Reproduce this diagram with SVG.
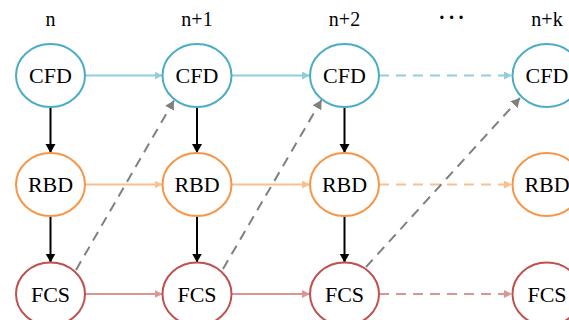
<svg xmlns="http://www.w3.org/2000/svg" width="569" height="320" viewBox="0 0 569 320">
  <style>
    text { font-family: "Liberation Serif", "Times New Roman", serif; fill: #000; text-anchor: middle; }
    .lbl { font-size: 22px; }
    .hdr { font-size: 20px; }
    .dots { font-size: 20px; font-weight: bold; letter-spacing: 3px; }
    .node { fill: #fff; stroke-width: 2; }
    .cfd { stroke: #4bacc6; }
    .rbd { stroke: #f79646; }
    .fcs { stroke: #c0504d; }
    .e { fill: none; stroke-width: 2; }
    .eb { stroke: #92cddc; }
    .eo { stroke: #fac090; }
    .er { stroke: #d99694; }
    .ek { stroke: #000; }
    .eg { stroke: #808080; }
    .dash { stroke-dasharray: 10 7; }
  </style>
  <defs>
    <marker id="ab" markerUnits="userSpaceOnUse" markerWidth="10" markerHeight="10" refX="8" refY="4" orient="auto">
      <path d="M0,0 L8,4 L0,8 z" fill="#92cddc"/>
    </marker>
    <marker id="ao" markerUnits="userSpaceOnUse" markerWidth="10" markerHeight="10" refX="8" refY="4" orient="auto">
      <path d="M0,0 L8,4 L0,8 z" fill="#fac090"/>
    </marker>
    <marker id="ar" markerUnits="userSpaceOnUse" markerWidth="10" markerHeight="10" refX="8" refY="4" orient="auto">
      <path d="M0,0 L8,4 L0,8 z" fill="#d99694"/>
    </marker>
    <marker id="ak" markerUnits="userSpaceOnUse" markerWidth="12" markerHeight="12" refX="9" refY="5" orient="auto">
      <path d="M0,0 L9,5 L0,10 z" fill="#000"/>
    </marker>
    <marker id="ag" markerUnits="userSpaceOnUse" markerWidth="12" markerHeight="12" refX="9" refY="5" orient="auto">
      <path d="M0,0 L9,5 L0,10 z" fill="#808080"/>
    </marker>
  </defs>

  <!-- step headers -->
  <g id="headers">
    <text class="hdr" x="50.5" y="26">n</text>
    <text class="hdr" x="197" y="26">n+1</text>
    <text class="hdr" x="344.5" y="26">n+2</text>
    <text class="dots" x="453" y="24">···</text>
    <text class="hdr" x="547" y="26">n+k</text>
  </g>

  <!-- connectors -->
  <g id="connectors">
    <!-- CFD row -->
    <line class="e eb" x1="85" y1="75.5" x2="162.5" y2="75.5" marker-end="url(#ab)"/>
    <line class="e eb" x1="231.5" y1="75.5" x2="310" y2="75.5" marker-end="url(#ab)"/>
    <line class="e eb dash" x1="379" y1="75.5" x2="512" y2="75.5" marker-end="url(#ab)"/>
    <!-- RBD row -->
    <line class="e eo" x1="85" y1="184.5" x2="162.5" y2="184.5" marker-end="url(#ao)"/>
    <line class="e eo" x1="231.5" y1="184.5" x2="310" y2="184.5" marker-end="url(#ao)"/>
    <line class="e eo dash" x1="379" y1="184.5" x2="512" y2="184.5" marker-end="url(#ao)"/>
    <!-- FCS row -->
    <line class="e er" x1="85" y1="294" x2="162.5" y2="294" marker-end="url(#ar)"/>
    <line class="e er" x1="231.5" y1="294" x2="310" y2="294" marker-end="url(#ar)"/>
    <line class="e er dash" x1="379" y1="294" x2="512" y2="294" marker-end="url(#ar)"/>
    <!-- vertical couplings -->
    <line class="e ek" x1="50.5" y1="107" x2="50.5" y2="153" marker-end="url(#ak)"/>
    <line class="e ek" x1="50.5" y1="216" x2="50.5" y2="262.5" marker-end="url(#ak)"/>
    <line class="e ek" x1="197" y1="107" x2="197" y2="153" marker-end="url(#ak)"/>
    <line class="e ek" x1="197" y1="216" x2="197" y2="262.5" marker-end="url(#ak)"/>
    <line class="e ek" x1="344.5" y1="107" x2="344.5" y2="153" marker-end="url(#ak)"/>
    <line class="e ek" x1="344.5" y1="216" x2="344.5" y2="262.5" marker-end="url(#ak)"/>
    <!-- feedback to next CFD -->
    <line class="e eg dash" x1="76" y1="270" x2="174" y2="100.5" marker-end="url(#ag)"/>
    <line class="e eg dash" x1="223" y1="269" x2="321.5" y2="100" marker-end="url(#ag)"/>
    <line class="e eg dash" x1="366" y1="267" x2="520" y2="98" marker-end="url(#ag)"/>
  </g>

  <!-- nodes -->
  <g id="cfd-n"><ellipse class="node cfd" cx="50.5" cy="75.5" rx="34.5" ry="31.5"/><text class="lbl" x="50.5" y="83">CFD</text></g>
  <g id="rbd-n"><ellipse class="node rbd" cx="50.5" cy="184.5" rx="34.5" ry="31.5"/><text class="lbl" x="50.5" y="192">RBD</text></g>
  <g id="fcs-n"><ellipse class="node fcs" cx="50.5" cy="294" rx="34.5" ry="31.5"/><text class="lbl" x="50.5" y="301.5">FCS</text></g>

  <g id="cfd-n1"><ellipse class="node cfd" cx="197" cy="75.5" rx="34.5" ry="31.5"/><text class="lbl" x="197" y="83">CFD</text></g>
  <g id="rbd-n1"><ellipse class="node rbd" cx="197" cy="184.5" rx="34.5" ry="31.5"/><text class="lbl" x="197" y="192">RBD</text></g>
  <g id="fcs-n1"><ellipse class="node fcs" cx="197" cy="294" rx="34.5" ry="31.5"/><text class="lbl" x="197" y="301.5">FCS</text></g>

  <g id="cfd-n2"><ellipse class="node cfd" cx="344.5" cy="75.5" rx="34.5" ry="31.5"/><text class="lbl" x="344.5" y="83">CFD</text></g>
  <g id="rbd-n2"><ellipse class="node rbd" cx="344.5" cy="184.5" rx="34.5" ry="31.5"/><text class="lbl" x="344.5" y="192">RBD</text></g>
  <g id="fcs-n2"><ellipse class="node fcs" cx="344.5" cy="294" rx="34.5" ry="31.5"/><text class="lbl" x="344.5" y="301.5">FCS</text></g>

  <g id="cfd-nk"><ellipse class="node cfd" cx="547" cy="75.5" rx="34.5" ry="31.5"/><text class="lbl" x="547" y="83">CFD</text></g>
  <g id="rbd-nk"><ellipse class="node rbd" cx="547" cy="184.5" rx="34.5" ry="31.5"/><text class="lbl" x="547" y="192">RBD</text></g>
  <g id="fcs-nk"><ellipse class="node fcs" cx="547" cy="294" rx="34.5" ry="31.5"/><text class="lbl" x="547" y="301.5">FCS</text></g>
</svg>
